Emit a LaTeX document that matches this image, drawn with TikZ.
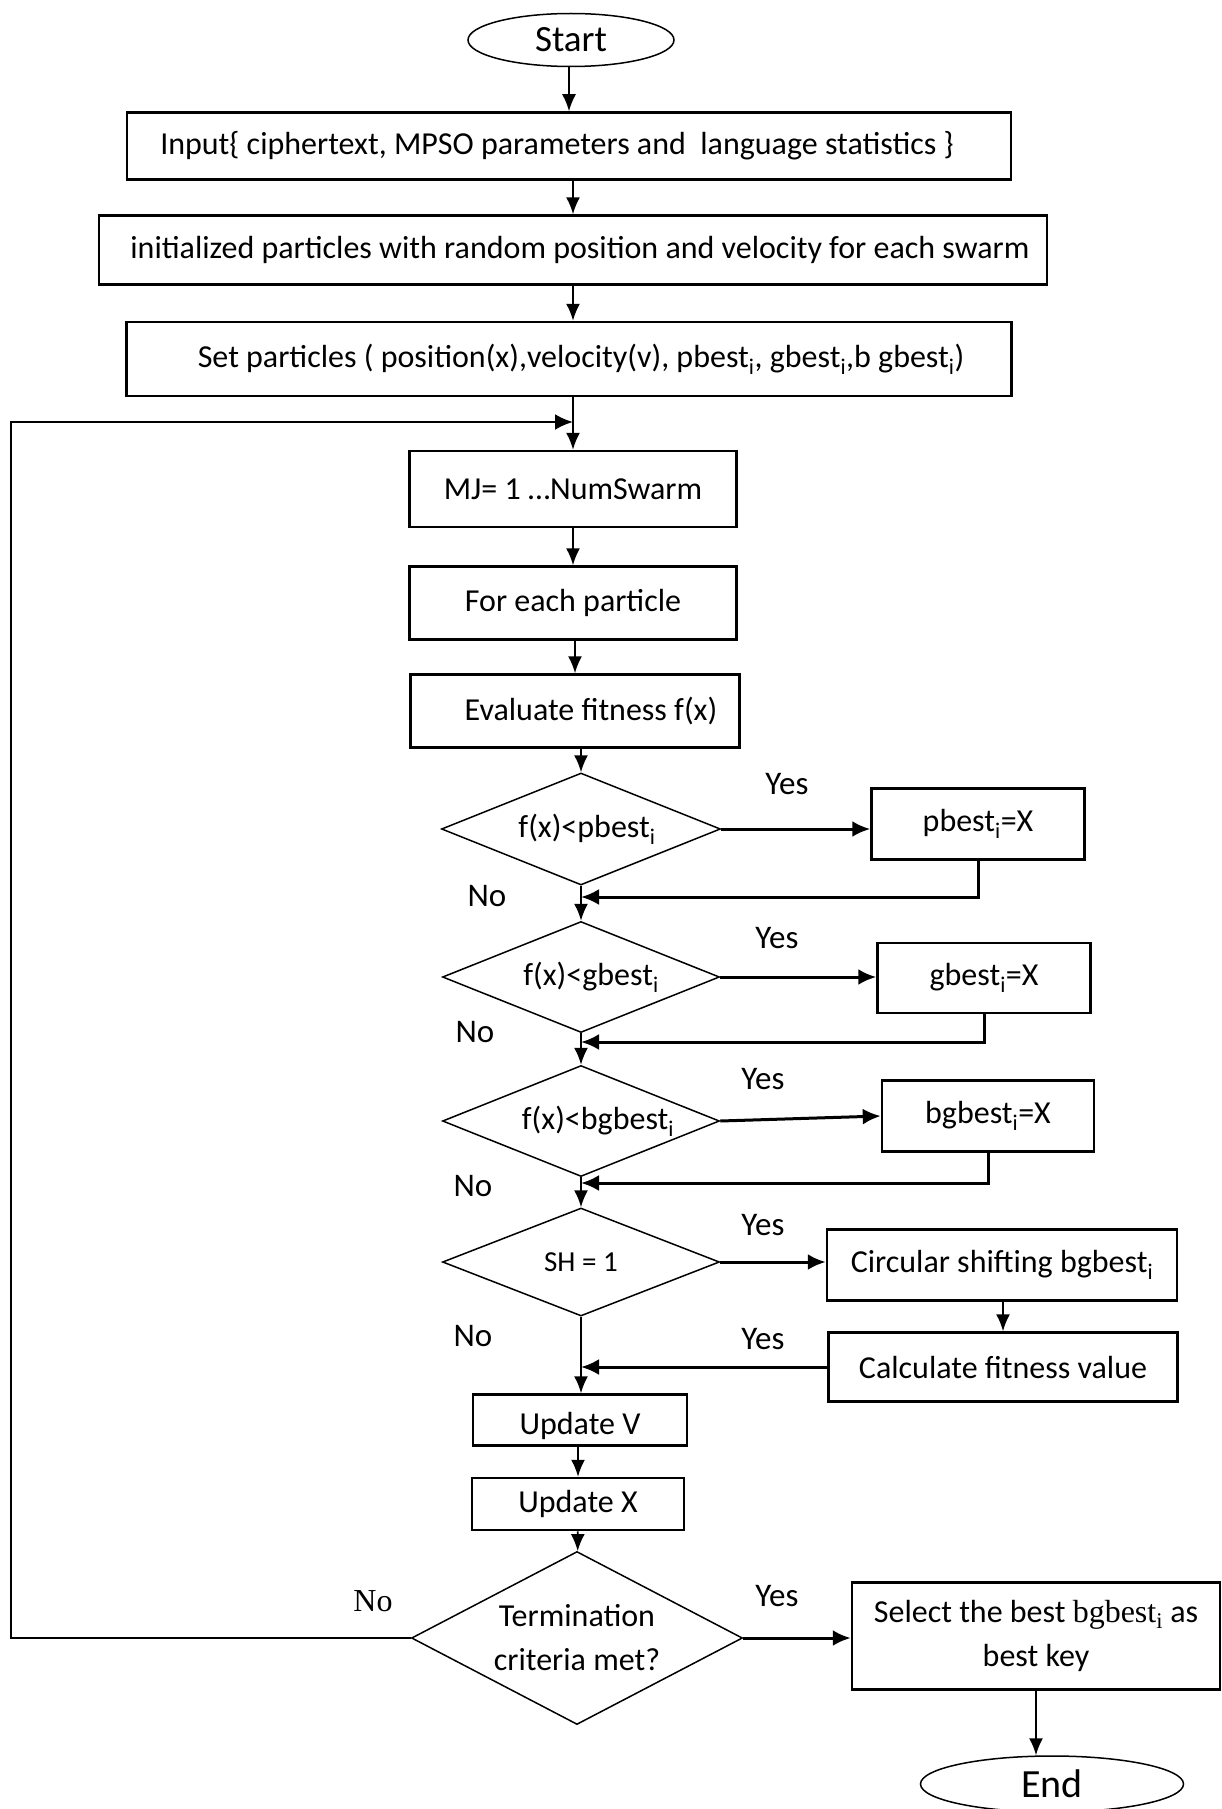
\documentclass[tikz,border=0pt]{standalone}
\usepackage{fontspec}
\setmainfont{Carlito}
\newfontfamily\timesfont{Liberation Serif}
\usetikzlibrary{shapes.geometric,arrows.meta}

\begin{document}
\begin{tikzpicture}[x=1pt, y=-1pt, >={Latex[length=17pt,width=14pt]},
    box/.style={draw, line width=2.5pt, rectangle, inner sep=0pt, align=center, font=\fontsize{32}{44}\selectfont},
    cond/.style={draw, line width=1.5pt, diamond, aspect=2.5, inner sep=0pt, align=center, font=\fontsize{32}{44}\selectfont},
    oval/.style={draw, line width=1.5pt, ellipse, inner sep=0pt},
    lbl/.style={font=\fontsize{33}{36}\selectfont},
    flow/.style={->, line width=1.8pt},
    back/.style={-{Latex[length=18pt,width=16pt]}, line width=3pt}]
        % Page
        \useasboundingbox (0,0) rectangle (1221,1809);
        \fill[white] (0,0) rectangle (1221,1809);

        % Set-up steps
        \node[oval, minimum width=206pt, minimum height=53pt, font=\fontsize{37}{44}\selectfont] (start) at (571,40) {Start};
        \node[box, minimum width=884pt, minimum height=67pt] (input) at (569,146) {Input\{ ciphertext, MPSO parameters and~ language statistics \}\hspace*{24pt}};
        \node[box, minimum width=948pt, minimum height=69pt] (init) at (573,250) {\hspace*{14pt}initialized particles with random position and velocity for each swarm};
        \node[box, minimum width=885pt, minimum height=74pt] (setp) at (569,359) {\hspace*{24pt}Set particles ( position(x),velocity(v), pbest\textsubscript{i}, gbest\textsubscript{i},b gbest\textsubscript{i})};

        % Swarm loop
        \node[box, minimum width=327pt, minimum height=76pt] (mj) at (573,489) {MJ= 1 …NumSwarm};
        \node[box, minimum width=327pt, minimum height=73pt] (each) at (573,603) {For each particle};
        \node[box, minimum width=329pt, minimum height=73pt] (eval) at (575,711) {\hspace*{32pt}Evaluate fitness f(x)};

        % Checks
        \node[cond, minimum width=279pt, minimum height=112pt] (cpb) at (581,829) {\hspace*{12pt}f(x)<pbest\textsubscript{i}};
        \node[box, minimum width=213pt, minimum height=71pt] (pb) at (978,824) {pbest\textsubscript{i}=X};
        \node[cond, minimum width=277pt, minimum height=111pt] (cgb) at (581,977) {\hspace*{20pt}f(x)<gbest\textsubscript{i}};
        \node[box, minimum width=213pt, minimum height=70pt] (gb) at (984,978) {gbest\textsubscript{i}=X};
        \node[cond, minimum width=277pt, minimum height=111pt] (cbgb) at (581,1121) {\hspace*{34pt}f(x)<bgbest\textsubscript{i}};
        \node[box, minimum width=212pt, minimum height=71pt] (bgb) at (988,1116) {bgbest\textsubscript{i}=X};
        \node[cond, minimum width=277pt, minimum height=108pt, font=\fontsize{29}{32}\selectfont] (csh) at (581,1262) {SH = 1};
        \node[box, minimum width=350pt, minimum height=71pt] (shift) at (1002,1265) {Circular shifting bgbest\textsubscript{i}};
        \node[box, minimum width=349pt, minimum height=69pt] (calc) at (1003,1367) {Calculate fitness value};

        % Updates and end
        \node[box, minimum width=214pt, minimum height=51pt] (updv) at (580,1420) {\raisebox{-14pt}[0pt][0pt]{Update V}};
        \node[box, minimum width=212pt, minimum height=52pt] (updx) at (578,1504) {Update X};
        \node[cond, minimum width=331pt, minimum height=173pt, aspect=2] (term) at (577,1638) {Termination\\criteria met?};
        \node[box, minimum width=368pt, minimum height=107pt] (sel) at (1036,1636) {Select the best {\timesfont bgbest\textsubscript{i}} as\\best key};
        \node[oval, minimum width=263pt, minimum height=56pt, font=\fontsize{40}{44}\selectfont] (stop) at (1052,1784) {End};

        % Joints on the main line
        \coordinate (loop) at (573,422);
        \coordinate (j1) at (581,897);
        \coordinate (j2) at (581,1042);
        \coordinate (j3) at (581,1183);
        \coordinate (j4) at (581,1367);

        % Main line
        \draw[flow] (input |- start.south) -- (input);
        \draw[flow] (init |- input.south) -- (init);
        \draw[flow] (init) -- (init |- setp.north);
        \draw[flow] (mj |- setp.south) -- (mj);
        \draw[flow] (each |- mj.south) -- (each);
        \draw[flow] (eval |- each.south) -- (eval);
        \draw[flow] (cpb |- eval.south) -- (cpb);
        \draw[flow] (cpb) -- (cgb);
        \draw[flow] (cgb) -- (cbgb);
        \draw[flow] (cbgb) -- (csh);
        \draw[flow] (csh) -- (csh |- updv.north);
        \draw[flow] (updx |- updv.south) -- (updx);
        \draw[flow] (updx) -- (term);

        % Yes branches
        \draw[back] (cpb.east) -- (cpb.east -| pb.west);
        \draw[back] (pb.south) |- (j1);
        \draw[back] (cgb.east) -- (cgb.east -| gb.west);
        \draw[back] (gb.south) |- (j2);
        \draw[back] (cbgb.east) -- (bgb.west);
        \draw[back] (bgb.south) |- (j3);
        \draw[back] (csh.east) -- (csh.east -| shift.west);
        \draw[flow] (calc |- shift.south) -- (calc);
        \draw[back] (calc) -- (j4);
        \draw[back] (term.east) -- (term.east -| sel.west);
        \draw[flow] (sel.south) -- (sel.south |- stop.north);

        % Back to the swarm loop
        \draw[back, line width=2.5pt] (term.west) -- ++(-400,0) |- (loop);

        % Labels
        \node[lbl] (y1) at (787,784) {Yes};
        \node[lbl] (n1) at (487,896) {No};
        \node[lbl] (y2) at (777,938) {Yes};
        \node[lbl] (n2) at (475,1032) {No};
        \node[lbl] (y3) at (763,1079) {Yes};
        \node[lbl] (n3) at (473,1186) {No};
        \node[lbl] (y4) at (763,1225) {Yes};
        \node[lbl] (n4) at (473,1336) {No};
        \node[lbl] (y5) at (763,1339) {Yes};
        \node[lbl] (y6) at (777,1596) {Yes};
        \node[font=\timesfont\fontsize{32}{36}\selectfont] (n5) at (373,1601) {No};
\end{tikzpicture}
\end{document}
